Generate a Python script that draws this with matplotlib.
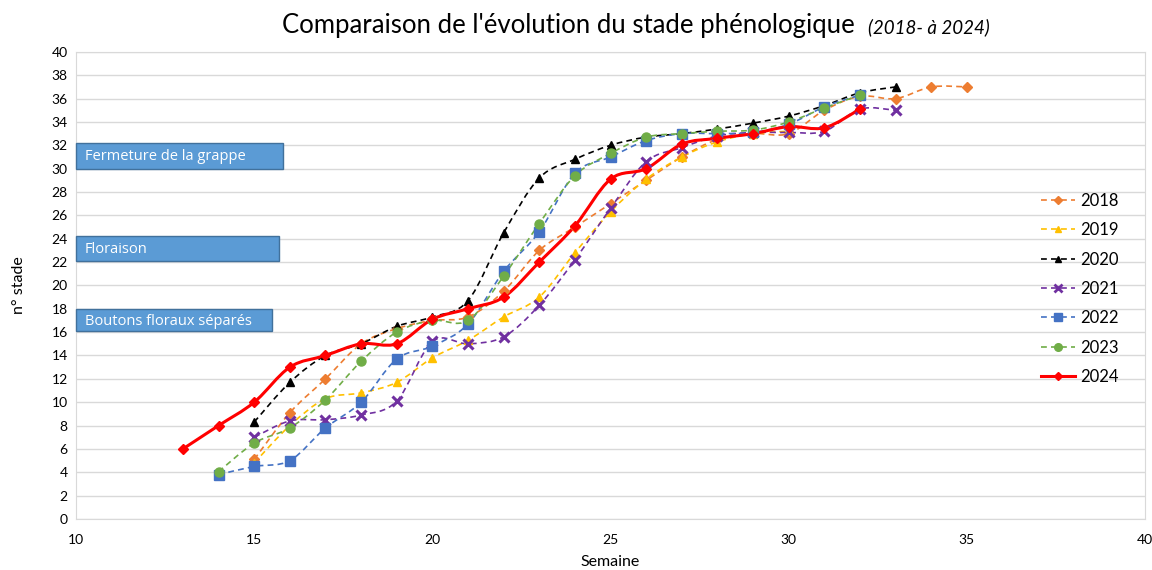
import numpy as np
import matplotlib
matplotlib.use("Agg")
import matplotlib.pyplot as plt
from matplotlib.path import Path
from matplotlib.patches import PathPatch, Rectangle
from matplotlib.lines import Line2D

plt.rcParams['font.family'] = ['Lato', 'DejaVu Sans']

# données (semaine, stade)
sem_2018 = [15, 16, 17, 18, 19, 20, 21, 22, 23, 24, 25, 26, 27, 28, 29, 30, 31, 32, 33, 34, 35]
val_2018 = [5.1, 9.1, 12.0, 15.0, 16.3, 17.0, 17.3, 19.5, 23.0, 25.0, 27.0, 29.0, 31.0, 32.5, 33.0, 33.0, 35.0, 36.2, 36.0, 37.0, 37.0]
sem_2019 = [15, 16, 17, 18, 19, 20, 21, 22, 23, 24, 25, 26, 27, 28, 29, 30]
val_2019 = [4.8, 8.0, 10.3, 10.8, 11.7, 13.8, 15.3, 17.3, 19.0, 22.8, 26.3, 29.1, 31.0, 32.3, 33.0, 33.2]
sem_2020 = [15, 16, 17, 18, 19, 20, 21, 22, 23, 24, 25, 26, 27, 28, 29, 30, 31, 32, 33]
val_2020 = [8.3, 11.7, 14.0, 15.0, 16.5, 17.3, 18.7, 24.5, 29.2, 30.8, 32.0, 32.7, 33.0, 33.4, 33.9, 34.5, 35.4, 36.5, 37.0]
sem_2021 = [15, 16, 17, 18, 19, 20, 21, 22, 23, 24, 25, 26, 27, 28, 29, 30, 31, 32, 33]
val_2021 = [7.0, 8.4, 8.5, 8.9, 10.1, 15.2, 15.0, 15.6, 18.3, 22.2, 26.6, 30.6, 31.8, 32.8, 33.1, 33.1, 33.2, 35.1, 35.0]
sem_2022 = [14, 15, 16, 17, 18, 19, 20, 21, 22, 23, 24, 25, 26, 27, 28, 29, 30, 31, 32]
val_2022 = [3.8, 4.5, 5.0, 7.8, 10.0, 13.7, 14.8, 16.7, 21.2, 24.6, 29.6, 31.0, 32.4, 33.0, 33.0, 33.1, 33.8, 35.3, 36.3]
sem_2023 = [14, 15, 16, 17, 18, 19, 20, 21, 22, 23, 24, 25, 26, 27, 28, 29, 30, 31, 32]
val_2023 = [4.05, 6.5, 7.8, 10.2, 13.5, 16.0, 17.0, 17.0, 20.8, 25.3, 29.4, 31.3, 32.7, 33.0, 33.2, 33.3, 34.0, 35.2, 36.3]
sem_2024 = [13, 14, 15, 16, 17, 18, 19, 20, 21, 22, 23, 24, 25, 26, 27, 28, 29, 30, 31, 32]
val_2024 = [6.0, 8.0, 10.0, 13.0, 14.0, 15.0, 15.0, 17.1, 18.0, 19.0, 22.0, 25.1, 29.1, 30.0, 32.1, 32.6, 33.0, 33.6, 33.5, 35.1]

annees = ['2018', '2019', '2020', '2021', '2022', '2023', '2024']
semaines = [sem_2018, sem_2019, sem_2020, sem_2021, sem_2022, sem_2023, sem_2024]
valeurs = [val_2018, val_2019, val_2020, val_2021, val_2022, val_2023, val_2024]

stades = ['Fermeture de la grappe', 'Floraison', 'Boutons floraux séparés']
stades_bas = [30.0, 22.1, 16.1]
stades_haut = [32.2, 24.2, 18.0]
stades_fin = [15.8, 15.7, 15.5]

couleurs = ['#ED7D31', '#FFC000', '#000000', '#7030A0', '#4472C4', '#70AD47', '#FF0000']
marqueurs = ['D', '^', '^', 'x', 's', 'o', 'D']
tailles = [5, 6, 6, 7, 6.5, 6.5, 5]


def courbe_lisse(x, y):
    # chemin de Bezier (lissage type Excel) passant par les points
    pts = np.column_stack([x, y]).astype(float)
    n = len(pts)
    verts = [pts[0]]
    codes = [Path.MOVETO]
    for i in range(n - 1):
        p0 = pts[i - 1] if i > 0 else pts[i]
        p1 = pts[i]
        p2 = pts[i + 1]
        p3 = pts[i + 2] if i + 2 < n else pts[i + 1]
        c1 = p1 + (p2 - p0) / 6.0
        c2 = p2 - (p3 - p1) / 6.0
        verts += [c1, c2, p2]
        codes += [Path.CURVE4] * 3
    return Path(verts, codes)


fig = plt.figure(figsize=(11.52, 5.70), dpi=100)
ax = fig.add_axes([0.066, 0.0895, 0.928, 0.8195])

for k in range(len(annees)):
    plein = annees[k] == '2024'
    lw = 2.2 if plein else 1.2
    ls = '-' if plein else (0, (3.5, 2.5))
    patch = PathPatch(courbe_lisse(semaines[k], valeurs[k]), facecolor='none',
                      edgecolor=couleurs[k], lw=lw, linestyle=ls, zorder=3 + k * 0.1)
    ax.add_patch(patch)
    mew = 2.2 if marqueurs[k] == 'x' else 1
    ax.plot(semaines[k], valeurs[k], linestyle='none', marker=marqueurs[k],
            markersize=tailles[k], color=couleurs[k], markeredgewidth=mew,
            zorder=4 + k * 0.1)

for k in range(len(stades)):
    ax.add_patch(Rectangle((10, stades_bas[k]), stades_fin[k] - 10,
                           stades_haut[k] - stades_bas[k], facecolor='#5B9BD5',
                           edgecolor='#41719C', lw=1, zorder=5, clip_on=False))
    ax.text(10.25, (stades_bas[k] + stades_haut[k]) / 2 - 0.1, stades[k], color='white',
            fontsize=10.5, va='center', ha='left', zorder=6, family=['Open Sans', 'DejaVu Sans'])

ax.set_xlim(10, 40)
ax.set_ylim(0, 40)
ax.set_xticks(range(10, 41, 5))
ax.set_yticks(range(0, 41, 2))
ax.tick_params(axis='x', length=0, labelsize=10, pad=11)
ax.tick_params(axis='y', length=0, labelsize=10, pad=6)
ax.grid(axis='y', color='#D9D9D9', lw=1)
ax.set_axisbelow(True)
for s in ax.spines.values():
    s.set_color('#D9D9D9')
ax.set_xlabel('Semaine', fontsize=11.5, labelpad=6)
ax.set_ylabel('n° stade', fontsize=11.5, labelpad=18)

poignees = []
for k in range(len(annees)):
    plein = annees[k] == '2024'
    poignees.append(Line2D([], [], color=couleurs[k], lw=2.2 if plein else 1.2,
                           linestyle='-' if plein else (0, (3.5, 2.5)),
                           marker=marqueurs[k], markersize=tailles[k] - 1,
                           markeredgewidth=2 if marqueurs[k] == 'x' else 1))
ax.legend(poignees, annees, loc='upper left', bbox_to_anchor=(0.889, 0.73),
          frameon=False, fontsize=12, labelspacing=0.8, handlelength=2.0,
          handletextpad=0.35)

fig.text(282 / 1152, 1 - 33 / 570, "Comparaison de l'évolution du stade phénologique",
         fontsize=18.5, ha='left', va='baseline')
fig.text(868 / 1152, 1 - 33 / 570, "(2018- à 2024)", fontsize=13.5, style='italic',
         ha='left', va='baseline')

fig.savefig('out.png', dpi=100)
